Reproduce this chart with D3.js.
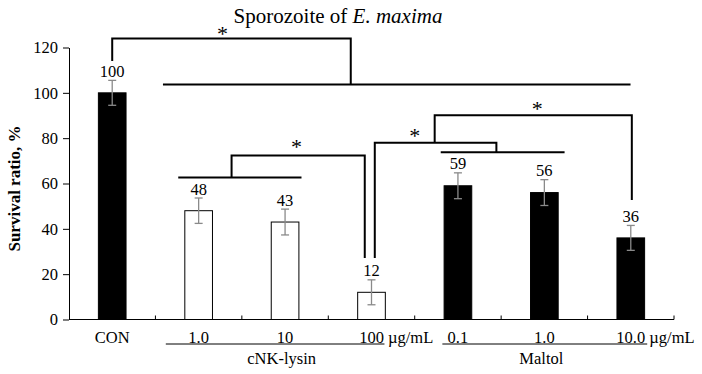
<!DOCTYPE html>
<html>
<head>
<meta charset="utf-8">
<script src="https://cdn.jsdelivr.net/npm/d3@7"></script>
<style>
  body { margin: 0; background: #fff; }
  text { font-family: "Liberation Serif", "Times New Roman", serif; fill: #000; }
</style>
</head>
<body>
<div id="chart"></div>
<script>
// values
const categories = ["CON", "1.0", "10", "100", "0.1", "1.0", "10.0"]
const units = ["", "", "", " µg/mL", "", "", " µg/mL"]
const treatment = ["control", "cNK-lysin", "cNK-lysin", "cNK-lysin", "Maltol", "Maltol", "Maltol"]
const survival = [100, 48, 43, 12, 59, 56, 36]
const sdev = [5.5, 5.6, 5.7, 5.5, 5.7, 5.7, 5.5]
const yTicks = [0, 20, 40, 60, 80, 100, 120]

// group captions under the axis, spans in category units
const groupNames = ["cNK-lysin", "Maltol"]
const groupSpans = [[1.12, 3.65], [4.32, 6.69]]
const groupMid = [2.46, 5.465]

// significance brackets: [category units, survival %]
const brackets = [
  [[0.5, 114], [0.5, 124], [3.26, 124], [3.26, 103.7]],
  [[1.087, 103.7], [6.497, 103.7]],
  [[1.264, 62.6], [2.69, 62.6]],
  [[1.881, 62.6], [1.881, 72.3], [3.422, 72.3], [3.422, 27.1]],
  [[4.301, 73.8], [5.734, 73.8]],
  [[4.945, 73.8], [4.945, 78], [3.538, 78], [3.538, 27.1]],
  [[4.231, 78], [4.231, 90.1], [6.512, 90.1], [6.512, 52.7]]
]
const stars = [[1.777, 127.7], [2.632, 77.9], [4.0, 82.9], [5.418, 94.6]]

const width = 702
const height = 374
const margin = {left: 69, right: 28, top: 47.5, bottom: 54.5}

const svg = d3.select("#chart")
  .append("svg")
    .attr("width", width)
    .attr("height", height)
    .attr("font-family", "Liberation Serif")

const x = d3.scaleBand()
  .domain(d3.range(categories.length))
  .range([margin.left, width - margin.right])
  .padding(0)

// same range, in category units, for brackets and group lines
const xu = d3.scaleLinear()
  .domain([0, categories.length])
  .range([margin.left, width - margin.right])

const y = d3.scaleLinear()
  .domain([0, 120])
  .range([height - margin.bottom, margin.top])

// title
svg.append("text")
  .attr("x", 338)
  .attr("y", 23)
  .attr("text-anchor", "middle")
  .style("font-size", "21px")
  .call(t => {
    t.append("tspan").text("Sporozoite of ")
    t.append("tspan").style("font-style", "italic").text("E. maxima")
  })

// y axis
const yAxis = svg.append("g")
  .attr("transform", `translate(${margin.left},0)`)
  .call(d3.axisLeft(y).tickValues(yTicks).tickSize(6).tickPadding(5).tickSizeOuter(0))
yAxis.attr("font-family", null)
yAxis.selectAll("text").style("font-size", "16.5px")
yAxis.selectAll("line, path").attr("stroke", "#000")

svg.append("text")
  .attr("transform", `translate(20,${(y(0) + y(120)) / 2 + 5}) rotate(-90)`)
  .attr("text-anchor", "middle")
  .style("font-size", "17px")
  .style("font-weight", "bold")
  .text("Survival ratio, %")

// x axis: baseline with small inward ticks between categories
svg.append("line")
  .attr("x1", xu(0)).attr("x2", xu(categories.length))
  .attr("y1", y(0)).attr("y2", y(0))
  .attr("stroke", "#000")
svg.append("g")
  .selectAll("line")
  .data(d3.range(1, categories.length + 1))
  .join("line")
    .attr("x1", d => xu(d)).attr("x2", d => xu(d))
    .attr("y1", y(0)).attr("y2", y(0) - 4)
    .attr("stroke", "#000")

// bars
const barW = x.bandwidth() * 0.32
svg.append("g")
  .selectAll("rect")
  .data(survival)
  .join("rect")
    .attr("x", (d, i) => x(i) + x.bandwidth() / 2 - barW / 2)
    .attr("y", d => y(d))
    .attr("width", barW)
    .attr("height", d => y(0) - y(d))
    .attr("fill", (d, i) => treatment[i] == "cNK-lysin" ? "#fff" : "#000")
    .attr("stroke", "#000")
    .attr("stroke-width", 1)

// error bars
const err = svg.append("g").attr("stroke", "#8a8a8a").attr("stroke-width", 1.3)
survival.forEach(function(v, i) {
  const cx = x(i) + x.bandwidth() / 2
  err.append("line").attr("x1", cx).attr("x2", cx).attr("y1", y(v + sdev[i])).attr("y2", y(v - sdev[i]))
  err.append("line").attr("x1", cx - 4).attr("x2", cx + 4).attr("y1", y(v + sdev[i])).attr("y2", y(v + sdev[i]))
  err.append("line").attr("x1", cx - 4).attr("x2", cx + 4).attr("y1", y(v - sdev[i])).attr("y2", y(v - sdev[i]))
})

// value labels
svg.append("g")
  .selectAll("text")
  .data(survival)
  .join("text")
    .attr("x", (d, i) => x(i) + x.bandwidth() / 2)
    .attr("y", (d, i) => y(d + sdev[i]) - 3.5)
    .attr("text-anchor", "middle")
    .style("font-size", "16.5px")
    .text(d => d)

// category labels, number centred under the bar, unit trailing
const catLabels = svg.append("g")
  .selectAll("text")
  .data(categories)
  .join("text")
    .attr("y", 342.5)
    .style("font-size", "16.5px")
catLabels.append("tspan").attr("class", "num").text(d => d)
catLabels.append("tspan").text((d, i) => units[i])
catLabels.each(function(d, i) {
  const w = d3.select(this).select(".num").node().getComputedTextLength()
  d3.select(this).attr("x", x(i) + x.bandwidth() / 2 - w / 2)
})

// group lines and captions
svg.append("g")
  .selectAll("line")
  .data(groupSpans)
  .join("line")
    .attr("x1", d => xu(d[0])).attr("x2", d => xu(d[1]))
    .attr("y1", 344).attr("y2", 344)
    .attr("stroke", "#000")
svg.append("g")
  .selectAll("text")
  .data(groupNames)
  .join("text")
    .attr("x", (d, i) => xu(groupMid[i]))
    .attr("y", 364)
    .attr("text-anchor", "middle")
    .style("font-size", "16.5px")
    .text(d => d)

// significance brackets
const line = d3.line().x(d => xu(d[0])).y(d => y(d[1]))
svg.append("g")
  .selectAll("path")
  .data(brackets)
  .join("path")
    .attr("d", line)
    .attr("fill", "none")
    .attr("stroke", "#000")
    .attr("stroke-width", 2)

svg.append("g")
  .selectAll("text")
  .data(stars)
  .join("text")
    .attr("x", d => xu(d[0]))
    .attr("y", d => y(d[1]) + 11)
    .attr("text-anchor", "middle")
    .style("font-size", "22px")
    .text("*")
</script>
</body>
</html>
